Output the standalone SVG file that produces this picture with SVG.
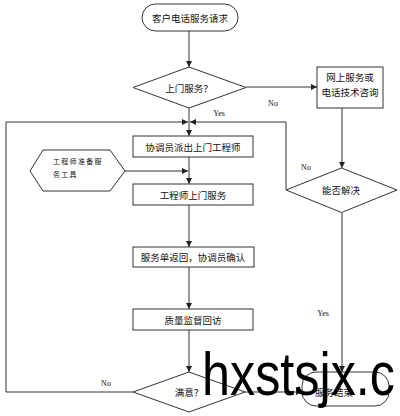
<svg xmlns="http://www.w3.org/2000/svg" width="400" height="416" viewBox="0 0 400 416">
<style>
.s{fill:#fff;stroke:#333;stroke-width:1}
.t{font-family:"Noto Sans CJK SC",sans-serif;font-size:9.5px;fill:#111;text-anchor:middle;dominant-baseline:central}
.l{font-family:"Liberation Serif",serif;font-size:8px;fill:#111;text-anchor:middle}
.c{fill:none;stroke:#333;stroke-width:1}
</style>
<defs>
<marker id="a" viewBox="0 0 8 8" refX="8" refY="4" markerWidth="6" markerHeight="6" orient="auto" markerUnits="userSpaceOnUse">
<path d="M0,0L8,4L0,8z" fill="#222"/>
</marker>
</defs>
<rect width="400" height="416" fill="#fff"/>
<g id="connectors" class="c" marker-end="url(#a)">
<path d="M189,31V67"/>
<path d="M246,87H317"/>
<path d="M189,108V136"/>
<path d="M342,108V168"/>
<path d="M286,190V122H190"/>
<path d="M133,392H6V122H188"/>
<path d="M125,171H188"/>
<path d="M189,157V184"/>
<path d="M189,205V247"/>
<path d="M189,267V309"/>
<path d="M189,330V372"/>
<path d="M245,392H302"/>
<path d="M342,213V372"/>
</g>
<g id="start"><rect class="s" x="142" y="4" width="96" height="27" rx="13.5"/><text class="t" x="190" y="17.5">客户电话服务请求</text></g>
<g id="d1"><polygon class="s" points="189,67 246,87.5 189,108 133,87.5"/><text class="t" x="189" y="88">上门服务？</text></g>
<g id="online"><rect class="s" x="317" y="67" width="66" height="41"/><text class="t" x="350" y="77">网上服务或</text><text class="t" x="350" y="92">电话技术咨询</text></g>
<g id="d2"><polygon class="s" points="341.5,168 397,190 341.5,212.5 286,190"/><text class="t" x="341" y="190">能否解决</text></g>
<g id="b1"><rect class="s" x="133" y="136" width="120" height="21"/><text class="t" x="193" y="146.5">协调员派出上门工程师</text></g>
<g id="hex"><polygon class="s" points="30,171 43,150 110,150 125,171 110,191 43,191"/><text x="53" y="164" style="font-family:'Noto Sans CJK SC',sans-serif;font-size:7px;letter-spacing:1.3px;fill:#111">工程师准备服</text><text x="53" y="177" style="font-family:'Noto Sans CJK SC',sans-serif;font-size:7px;letter-spacing:1.3px;fill:#111">务工具</text></g>
<g id="b2"><rect class="s" x="133" y="184" width="120" height="21"/><text class="t" x="193" y="194.5">工程师上门服务</text></g>
<g id="b3"><rect class="s" x="133" y="247" width="121" height="20"/><text class="t" x="193" y="257">服务单返回，协调员确认</text></g>
<g id="b4"><rect class="s" x="133" y="309" width="120" height="21"/><text class="t" x="193" y="319.5">质量监督回访</text></g>
<g id="d3"><polygon class="s" points="189,372 245,392 189,412 133,392"/><text class="t" x="189" y="392">满意？</text></g>
<g id="end"><rect class="s" x="302" y="372" width="87" height="34" rx="14"/><text class="t" x="334" y="392">服务结束</text></g>
<g id="labels">
<text class="l" x="273" y="106">No</text>
<text class="l" x="219" y="116">Yes</text>
<text class="l" x="306" y="170">No</text>
<text class="l" x="323" y="316">Yes</text>
<text class="l" x="106" y="386">No</text>
<text class="l" x="267" y="380">Yes</text>
</g>
<text x="202" y="395" textLength="193" lengthAdjust="spacingAndGlyphs" style="font-family:'Liberation Sans',sans-serif;font-size:62px;fill:#000">hxstsjx.c</text>
</svg>
